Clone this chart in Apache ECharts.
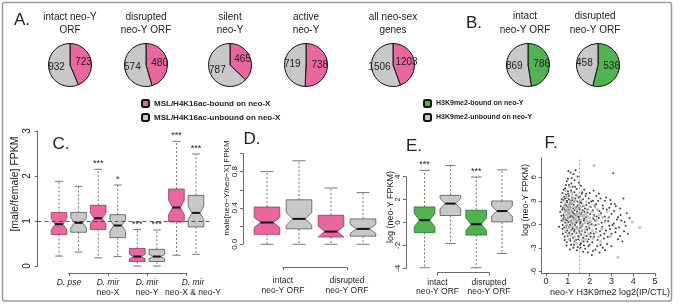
<!DOCTYPE html>
<html>
<head>
<meta charset="utf-8">
<script src="https://cdn.jsdelivr.net/npm/echarts@6/dist/echarts.min.js"></script>
<style>
  html, body { margin: 0; padding: 0; background: #fff; }
  #chart { width: 683px; height: 307px; }
</style>
</head>
<body>
<div id="chart"></div>
<script>
const FONT = '"Liberation Sans", Arial, sans-serif'
const PINK = '#e9669e'
const GRAY = '#c8c8c8'
const GREEN = '#50b250'

// A / B: pie counts
const pieTitlesA = ['intact neo-Y\nORF', 'disrupted\nneo-Y ORF', 'silent\nneo-Y', 'active\nneo-Y', 'all neo-sex\ngenes']
const pieBoundA = [723, 480, 465, 738, 1203]
const pieUnboundA = [932, 574, 787, 719, 1506]
const pieTitlesB = ['intact\nneo-Y ORF', 'disrupted\nneo-Y ORF']
const pieBoundB = [786, 536]
const pieUnboundB = [869, 458]
const legendA = ['MSL/H4K16ac-bound on neo-X', 'MSL/H4K16ac-unbound on neo-X']
const legendB = ['H3K9me2-bound on neo-Y', 'H3K9me2-unbound on neo-Y']

// C: [male/female] FPKM boxes (pink / grey pairs)
const cSpecies = ['D. pse', 'D. mir', 'D. mir', 'D. mir']
const cChrom = ['', 'neo-X', 'neo-Y', 'neo-X & neo-Y']
const cLow = [0.22, 0.31, 0.18, 0.21, 0.0, 0.0, 0.24, 0.26]
const cQ1 = [0.70, 0.75, 0.81, 0.63, 0.10, 0.10, 0.98, 0.87]
const cMed = [0.93, 0.96, 1.06, 0.90, 0.21, 0.21, 1.30, 1.18]
const cQ3 = [1.19, 1.19, 1.35, 1.14, 0.39, 0.37, 1.71, 1.57]
const cHigh = [1.88, 1.77, 2.15, 1.80, 0.81, 0.80, 2.77, 2.49]
const cNotch = [0.13, 0.11, 0.12, 0.13, 0.05, 0.05, 0.16, 0.15]
const cStars = ['', '', '***', '*', '***', '***', '***', '***']

// D: male[neo-Y/neo-X] FPKM
const orfGroups = ['intact\nneo-Y ORF', 'disrupted\nneo-Y ORF']
const dLow = [0, 0, 0, 0]
const dQ1 = [0.11, 0.17, 0.08, 0.09]
const dMed = [0.24, 0.28, 0.14, 0.17]
const dQ3 = [0.41, 0.49, 0.32, 0.28]
const dHigh = [0.80, 0.92, 0.62, 0.57]
const dNotch = [0.055, 0.07, 0.06, 0.05]

// E: log (neo-Y FPKM)
const eLow = [-3.95, -1.83, -3.95, -2.7]
const eQ1 = [-0.87, 0.61, -1.1, 0.05]
const eMed = [0.2, 1.65, -0.15, 1.0]
const eQ3 = [1.36, 2.37, 1.07, 1.88]
const eHigh = [4.55, 4.98, 3.97, 4.6]
const eNotch = [0.58, 0.44, 0.55, 0.44]
const eStars = ['***', '', '***', '']

// F: neo-Y H3K9me2 enrichment vs expression, [x, y]
const fBlackPts = [
  [1.02, 6.8], [1.12, 6.6], [1.25, 6.4], [1.35, 6.9], [1.18, 5.9], [0.95, 5.5], [1.3, 5.6], [1.45, 6.1],
  [1.05, 5.0], [1.22, 4.8], [0.88, 4.6], [1.4, 4.5], [1.6, 4.9], [1.15, 4.3], [3.08, 6.5], [0.75, 4.0],
  [1.0, 4.2], [1.3, 4.1], [1.75, 4.4], [2.0, 4.0], [2.3, 3.6],
  [0.82, 3.5], [0.9, 3.8], [1.05, 3.6], [1.2, 3.4], [1.38, 3.7], [1.55, 3.5], [1.7, 3.2], [1.95, 3.3],
  [2.15, 3.0], [2.5, 3.3], [2.75, 3.4], [3.55, 3.3], [0.7, 2.8], [0.85, 2.5], [0.95, 3.0], [1.1, 2.7],
  [1.3, 2.9], [1.45, 2.4], [1.62, 2.7], [1.85, 2.5], [2.05, 2.2], [2.3, 2.6], [2.6, 2.4], [2.9, 2.1],
  [3.2, 2.3], [0.78, 2.1], [1.0, 2.2], [1.25, 2.0], [1.5, 2.1], [1.78, 2.0],
  [0.65, 1.6], [0.8, 1.2], [0.92, 1.7], [1.08, 1.4], [1.2, 1.0], [1.42, 1.6], [1.6, 1.3], [1.9, 1.5],
  [2.2, 1.2], [2.45, 1.7], [2.7, 1.0], [3.0, 1.3], [3.3, 0.9], [3.82, 0.8], [0.72, 0.5], [0.88, 0.2],
  [1.0, 0.8], [1.15, 0.4], [1.35, 0.6], [1.55, 0.1], [1.75, 0.7], [2.0, 0.3], [2.25, 0.5], [2.55, 0.2],
  [2.85, 0.4], [3.1, 0.1], [3.45, 0.5], [3.65, -0.2],
  [0.6, -0.3], [0.75, -0.6], [0.9, -1.0], [1.05, -0.4], [1.2, -1.2], [1.3, -0.7], [1.48, -1.5], [1.65, -0.9],
  [1.85, -0.3], [2.05, -1.1], [2.3, -0.6], [2.5, -1.4], [2.75, -0.8], [3.0, -1.2], [3.2, -0.5], [3.4, -1.5],
  [3.58, -0.9], [0.85, -1.6], [1.1, -1.9], [1.4, -1.1], [1.7, -1.7], [1.95, -1.9], [2.2, -1.6], [2.65, -1.8],
  [2.9, -0.2], [3.3, -1.9],
  [0.95, -2.3], [1.15, -2.6], [1.3, -2.2], [1.45, -2.9], [1.6, -2.4], [1.8, -3.1], [2.0, -2.6], [2.15, -3.4],
  [2.35, -2.8], [2.6, -3.0], [2.8, -2.5], [1.25, -3.0], [1.7, -3.5], [2.45, -3.6], [1.9, -2.2], [2.1, -3.9],
  [3.0, -2.8],
  [0.8, 3.1], [0.92, 2.4], [1.0, 1.5], [1.05, 3.2], [0.85, 1.9], [1.12, 2.1], [1.18, 1.7], [0.96, 0.5],
  [1.1, -0.1], [0.82, 0.9], [1.28, 1.3], [1.38, 0.2], [1.22, -0.5], [0.98, -0.8], [1.5, 0.9], [1.58, -0.4],
  [1.68, 1.8], [1.88, -0.7], [0.7, 1.1], [0.76, -0.1],
  [0.68, 2.3], [0.74, 1.9], [0.79, 0.7], [0.83, -0.4], [0.87, 3.3], [0.89, 0.6], [0.93, -0.2], [0.97, 2.8],
  [0.99, -1.5], [1.01, 3.9], [1.03, 0.3], [1.04, 1.9], [1.06, -1.1], [1.07, 2.4], [1.09, 0.9], [1.11, -2.1],
  [1.13, 3.0], [1.14, 1.1], [1.16, -0.7], [1.17, 2.6], [1.19, 0.1], [1.21, 3.1], [1.23, 1.5], [1.24, -1.7],
  [1.26, 0.8], [1.27, 2.5], [1.29, -0.9], [1.31, 1.8], [1.33, -0.1], [1.34, 3.3], [1.36, 1.2], [1.37, -2.0],
  [1.39, 2.2], [1.41, 0.4], [1.43, -0.4], [1.44, 2.9], [1.46, 1.0], [1.47, -1.9], [1.49, 3.4], [1.51, 0.6],
  [1.53, -0.9], [1.54, 1.9], [1.56, -2.6], [1.57, 2.8], [1.59, 0.3], [1.61, -1.3], [1.63, 3.9], [1.64, 1.5],
  [1.66, -0.2], [1.69, 2.3], [1.72, -2.2], [1.73, 0.5], [1.76, 1.6], [1.79, -1.0], [1.81, 3.6], [1.83, 0.9],
  [1.86, -1.5], [1.89, 1.9], [1.92, 0.1], [1.94, -2.8], [1.97, 2.7], [1.99, -0.5], [2.02, 1.3], [2.04, -1.6],
  [2.07, 2.9], [2.09, 0.0], [2.12, -2.3], [2.14, 1.8], [2.17, 0.7], [2.19, -1.2], [2.23, 2.4], [2.27, -0.1],
  [2.32, 1.0], [2.36, -2.0], [2.39, 3.0], [2.42, 0.8], [2.47, -0.9], [2.52, 1.4], [2.57, -0.3], [2.62, 2.0],
  [2.67, -1.2], [2.72, 0.5], [2.78, 1.9], [2.83, -1.6], [2.88, 0.9], [2.93, -0.6], [2.98, 2.6], [3.05, -0.1],
  [3.12, 1.7], [3.18, -1.0], [3.25, 0.6], [3.35, -0.4], [3.42, 1.2], [3.5, -2.2], [0.72, 3.2], [0.77, -1.2],
  [0.81, 4.4], [0.86, -2.0], [0.91, 5.0], [0.94, -2.7], [1.0, 5.8], [1.09, -3.2], [1.16, 5.2], [1.28, -2.6],
  [1.33, 4.8], [1.42, -3.3], [1.5, 5.3], [1.58, -3.0], [1.66, 4.1], [1.74, -2.7], [1.84, 3.9], [1.92, -3.6],
  [2.26, -3.2], [2.5, -2.6], [2.7, -3.3], [2.18, 4.3], [2.42, 3.9], [2.7, 3.0], [2.95, 3.1], [3.15, 2.6],
  [3.4, 2.0], [3.7, 1.4], [3.6, 0.3], [3.75, -1.2]
]
const fGrayPts = [
  [0.85, 2.2], [0.95, 1.8], [1.05, 2.5], [1.15, 1.6], [1.25, 2.3], [0.9, 1.2], [1.0, 0.9], [1.1, 1.3],
  [1.2, 0.6], [1.3, 1.1], [1.4, 1.9], [1.5, 1.4], [0.8, 0.4], [0.95, 0.1], [1.05, -0.3], [1.15, 0.2],
  [1.25, -0.2], [1.35, 0.5], [1.45, -0.6], [1.6, 0.6], [1.7, 1.0], [1.8, 0.2], [1.9, -0.4], [2.0, 0.8],
  [2.1, 1.6], [2.2, -0.2], [0.88, -0.9], [1.0, -1.3], [1.12, -0.8], [1.3, -1.6], [1.55, -1.1], [1.75, -1.4],
  [2.0, -1.3], [0.82, 3.0], [0.98, 3.4], [1.1, 2.9], [1.2, 3.8], [1.35, 3.0], [1.6, 2.2], [1.85, 2.9],
  [2.35, 1.9], [2.4, 0.0], [2.6, 0.9], [2.8, 1.6], [2.3, -1.0], [1.4, -2.4], [1.65, -2.0], [0.92, 4.3],
  [1.08, 4.8], [2.2, 7.5], [4.3, -0.4], [3.3, -4.2], [3.95, 0.3], [2.5, -2.2], [2.95, -1.5],
  [0.9, 2.6], [0.98, 2.0], [1.02, 1.2], [1.08, 0.5], [1.12, 1.9], [1.18, 2.7], [1.22, 1.2], [1.27, 0.2],
  [1.32, 2.0], [1.38, -0.4], [1.42, 1.3], [1.48, 0.3], [1.52, 2.6], [1.57, -0.2], [1.63, 1.6], [1.67, 0.0],
  [1.73, 2.4], [1.78, -0.6], [1.83, 1.3], [1.87, 0.5], [1.93, 1.9], [1.98, -0.1], [2.05, 0.4], [2.12, -0.8],
  [2.18, 1.0], [2.25, 2.2], [2.32, 0.5], [2.45, 1.2], [2.55, -0.6], [2.7, 0.3], [0.86, 0.8], [0.92, -0.5],
  [0.97, -0.1], [1.03, 1.6], [1.07, 2.2], [1.13, -1.4], [1.19, -0.3], [1.23, 3.3], [1.29, 0.6], [1.34, -1.0],
  [1.4, 0.9], [1.46, 2.2], [1.51, -1.7], [1.58, 1.1], [1.64, -0.8], [1.72, 1.2], [1.8, -1.9], [1.9, 1.0],
  [2.02, 2.3], [2.15, -1.8], [0.84, 1.5], [0.94, 3.6], [1.06, -1.9], [1.17, 4.1], [1.31, -2.1], [1.44, 3.6],
  [1.62, 3.1], [1.96, -1.2], [2.4, -1.6], [2.85, 0.8]
]
const fCutoff = 1.5

function boxData (low, q1, med, q3, high, notch) {
  return med.map((m, i) => [i + 1, low[i], q1[i], m, q3[i], high[i], notch[i]])
}

function boxRenderer (fills, strokes, stars) {
  return function (params, api) {
    const x = api.value(0)
    const md = api.value(3)
    const q1 = api.value(2)
    const q3 = api.value(4)
    const nt = api.value(6)
    const y = v => api.coord([x, v])[1]
    const cx = api.coord([x, md])[0]
    const h = api.size([0.4, 0])[0]
    const yMd = y(md)
    const yQ1 = y(q1)
    const yQ3 = y(q3)
    const yNh = y(Math.min(md + nt, q3))
    const yNl = y(Math.max(md - nt, q1))
    const yLo = y(api.value(1))
    const yHi = y(api.value(5))
    const i = params.dataIndex
    const whisker = { stroke: '#555', lineWidth: 0.8, lineDash: [2, 2] }
    const cap = { stroke: '#555', lineWidth: 0.8 }
    return {
      type: 'group',
      children: [
        { type: 'line', shape: { x1: cx, y1: yQ3, x2: cx, y2: yHi }, style: whisker },
        { type: 'line', shape: { x1: cx, y1: yQ1, x2: cx, y2: yLo }, style: whisker },
        { type: 'line', shape: { x1: cx - h / 2, y1: yHi, x2: cx + h / 2, y2: yHi }, style: cap },
        { type: 'line', shape: { x1: cx - h / 2, y1: yLo, x2: cx + h / 2, y2: yLo }, style: cap },
        {
          type: 'polygon',
          shape: {
            points: [
              [cx - h, yQ3], [cx + h, yQ3], [cx + h, yNh], [cx + h / 2, yMd], [cx + h, yNl],
              [cx + h, yQ1], [cx - h, yQ1], [cx - h, yNl], [cx - h / 2, yMd], [cx - h, yNh],
            ],
          },
          style: { fill: fills[i], stroke: strokes[i], lineWidth: 0.8 },
        },
        { type: 'line', shape: { x1: cx - h / 2, y1: yMd, x2: cx + h / 2, y2: yMd }, style: { stroke: '#111', lineWidth: 2 } },
        {
          type: 'text',
          style: {
            text: stars ? stars[i] : '', x: cx, y: yHi - 1, textAlign: 'center', textVerticalAlign: 'bottom',
            fontSize: 9, fontFamily: FONT, fill: '#222',
          },
        },
      ],
    }
  }
}

function pieSeries (x, bound, unbound, names, boundColor) {
  return {
    type: 'pie',
    center: [x, 65],
    radius: 21.5,
    startAngle: 90,
    clockwise: true,
    silent: true,
    label: { show: true, position: 'inside', formatter: '{c}', fontSize: 10, color: '#222', fontFamily: FONT },
    labelLine: { show: false },
    itemStyle: { borderColor: '#111', borderWidth: 1 },
    data: [
      { name: names[0], value: bound, itemStyle: { color: boundColor } },
      { name: names[1], value: unbound, itemStyle: { color: GRAY } },
    ],
  }
}

function text (str, x, y, size, extra) {
  return Object.assign({
    type: 'text',
    x,
    y,
    style: {
      text: str, fontSize: size, fontFamily: FONT, fill: '#222',
      textAlign: 'center', textVerticalAlign: 'middle', lineHeight: size + 3.5,
    },
  }, extra)
}

function yTitle (str, x, y, size) {
  return text(str, x, y, size, { rotation: Math.PI / 2 })
}

const pieXA = [70, 146, 230, 306, 393]
const pieXB = [528, 598]

const axisText = { fontSize: 9, fontFamily: FONT, color: '#222' }
const axisLine = { show: true, onZero: false, lineStyle: { color: '#444', width: 0.8 } }
const axisTick = { show: true, length: 3, lineStyle: { color: '#444', width: 0.8 } }

const pairFill = [PINK, GRAY, PINK, GRAY, PINK, GRAY, PINK, GRAY]
const pairStroke = ['#8c3a60', '#555', '#8c3a60', '#555', '#8c3a60', '#555', '#8c3a60', '#555']
const greenFill = [GREEN, GRAY, GREEN, GRAY]
const greenStroke = ['#2e6e30', '#555', '#2e6e30', '#555']

const labelRich = {
  i: { fontStyle: 'italic', fontSize: 8.5, fontFamily: FONT, color: '#222', lineHeight: 10 },
  n: { fontSize: 8.5, fontFamily: FONT, color: '#222', lineHeight: 10 },
  ir: { fontStyle: 'italic', fontSize: 8.5, fontFamily: FONT, color: '#222', lineHeight: 10, padding: [0, 0, 0, 14] },
  nr: { fontSize: 8.5, fontFamily: FONT, color: '#222', lineHeight: 10, padding: [0, 0, 0, 14] },
}

function speciesLabel (v, i) {
  if (!cChrom[i]) return `{i|${v}}`
  if (i === cChrom.length - 1) return `{ir|${v}}\n{nr|${cChrom[i]}}`
  return `{i|${v}}\n{n|${cChrom[i]}}`
}

function bracketAxis (gridIndex, data, margin, formatter) {
  return {
    gridIndex,
    type: 'category',
    data,
    boundaryGap: false,
    axisLine,
    axisTick: Object.assign({}, axisTick, { interval: 0 }),
    axisLabel: Object.assign({}, axisText, {
      interval: 0,
      margin,
      fontSize: 8.5,
      lineHeight: 9.5,
      formatter,
      rich: labelRich,
    }),
    splitLine: { show: false },
  }
}

const chart = echarts.init(document.getElementById('chart'), null, { renderer: 'canvas' })

const series = []
pieBoundA.forEach((b, i) => series.push(pieSeries(pieXA[i], b, pieUnboundA[i], legendA, PINK)))
pieBoundB.forEach((b, i) => series.push(pieSeries(pieXB[i], b, pieUnboundB[i], legendB, GREEN)))

series.push({
  type: 'custom',
  xAxisIndex: 0,
  yAxisIndex: 0,
  silent: true,
  renderItem: boxRenderer(pairFill, pairStroke, cStars),
  encode: { x: 0, y: [1, 5] },
  data: boxData(cLow, cQ1, cMed, cQ3, cHigh, cNotch),
  markLine: {
    silent: true,
    symbol: 'none',
    label: { show: false },
    lineStyle: { type: [4, 3], color: '#333', width: 0.8 },
    data: [{ yAxis: 1 }],
  },
})
series.push({
  type: 'custom',
  xAxisIndex: 1,
  yAxisIndex: 1,
  silent: true,
  renderItem: boxRenderer(pairFill, pairStroke, null),
  encode: { x: 0, y: [1, 5] },
  data: boxData(dLow, dQ1, dMed, dQ3, dHigh, dNotch),
})
series.push({
  type: 'custom',
  xAxisIndex: 2,
  yAxisIndex: 2,
  silent: true,
  clip: false,
  renderItem: boxRenderer(greenFill, greenStroke, eStars),
  encode: { x: 0, y: [1, 5] },
  data: boxData(eLow, eQ1, eMed, eQ3, eHigh, eNotch),
})
series.push({
  type: 'scatter',
  xAxisIndex: 3,
  yAxisIndex: 3,
  silent: true,
  clip: false,
  symbolSize: 2,
  itemStyle: { color: '#111' },
  data: fBlackPts,
  markLine: {
    silent: true,
    symbol: 'none',
    label: { show: false },
    lineStyle: { type: [2, 2], color: '#888', width: 0.8 },
    data: [{ xAxis: fCutoff }],
  },
})
series.push({
  type: 'scatter',
  xAxisIndex: 3,
  yAxisIndex: 3,
  silent: true,
  clip: false,
  symbolSize: 3,
  itemStyle: { color: '#b4b4b4' },
  data: fGrayPts,
})

const option = {
  animation: false,
  backgroundColor: '#fff',
  textStyle: { fontFamily: FONT },
  legend: [
    {
      data: legendA, left: 141, top: 99, orient: 'vertical', padding: 0,
      itemWidth: 7, itemHeight: 7, itemGap: 5, icon: 'roundRect', selectedMode: false,
      textStyle: { fontSize: 8, fontWeight: 'bold', fontFamily: FONT, color: '#222' },
    },
    {
      data: legendB, left: 423, top: 99, orient: 'vertical', padding: 0,
      itemWidth: 7, itemHeight: 7, itemGap: 5, icon: 'roundRect', selectedMode: false,
      textStyle: { fontSize: 7, fontWeight: 'bold', fontFamily: FONT, color: '#222' },
    },
  ],
  grid: [
    { left: 37.5, top: 131, width: 172.2, height: 135 },
    { left: 243, top: 153.5, width: 144, height: 90.8 },
    { left: 406, top: 176.7, width: 114.6, height: 91.6 },
    { left: 541.7, top: 158, width: 113.4, height: 115.5 },
    { left: 69, top: 272, width: 117, height: 1 },
    { left: 283, top: 266.3, width: 64, height: 1 },
    { left: 437.5, top: 271.7, width: 51.5, height: 1 },
  ],
  xAxis: [
    { gridIndex: 0, type: 'value', min: -0.1, max: 8.7, show: false },
    { gridIndex: 1, type: 'value', min: 0.25, max: 4.75, show: false },
    { gridIndex: 2, type: 'value', min: 0.28, max: 4.72, show: false },
    {
      gridIndex: 3, type: 'value', min: -0.2, max: 5,
      axisLine, axisTick: Object.assign({}, axisTick, { customValues: [0, 1, 2, 3, 4, 5] }),
      axisLabel: Object.assign({}, axisText, { margin: 4, customValues: [0, 1, 2, 3, 4, 5] }),
      splitLine: { show: false },
    },
    bracketAxis(4, cSpecies, 5, speciesLabel),
    bracketAxis(5, orfGroups, 9, v => v),
    bracketAxis(6, orfGroups, 5, v => v),
  ],
  yAxis: [
    {
      gridIndex: 0, type: 'value', min: 0, max: 3, interval: 1,
      axisLine, axisTick, splitLine: { show: false },
      axisLabel: Object.assign({}, axisText, { fontSize: 10, rotate: 90, margin: 5 }),
    },
    {
      gridIndex: 1, type: 'value', min: 0, max: 1, interval: 0.2,
      axisLine, axisTick, splitLine: { show: false },
      axisLabel: Object.assign({}, axisText, {
        fontSize: 8, rotate: 90, margin: 4,
        formatter: v => ([0, 0.4, 0.8].some(t => Math.abs(t - v) < 1e-6) ? v.toFixed(1) : ''),
      }),
    },
    {
      gridIndex: 2, type: 'value', min: -4, max: 4, interval: 2,
      axisLine, axisTick, splitLine: { show: false },
      axisLabel: Object.assign({}, axisText, { fontSize: 8, rotate: 90, margin: 4 }),
    },
    {
      gridIndex: 3, type: 'value', min: -6.27, max: 8.45,
      axisLine, splitLine: { show: false },
      axisTick: Object.assign({}, axisTick, { customValues: [-6, -3, 0, 3, 6] }),
      axisLabel: Object.assign({}, axisText, { fontSize: 8, rotate: 90, margin: 4, customValues: [-6, -3, 0, 3, 6] }),
    },
    { gridIndex: 4, type: 'value', show: false },
    { gridIndex: 5, type: 'value', show: false },
    { gridIndex: 6, type: 'value', show: false },
  ],
  graphic: [
    { type: 'rect', silent: true, shape: { x: 2.5, y: 2.5, width: 669, height: 298.5, r: 2 }, style: { fill: 'none', stroke: '#9a9a9a', lineWidth: 1.5 } },
    text('A.', 22, 20, 17),
    text('B.', 474, 23, 17),
    text('C.', 61, 144, 17),
    text('D.', 252, 139, 17),
    text('E.', 414, 146, 17),
    text('F.', 551, 143, 17),
    ...pieTitlesA.map((t, i) => text(t, pieXA[i], 23.5, 10)),
    ...pieTitlesB.map((t, i) => text(t, pieXB[i] - 3, 23, 10)),
    yTitle('[male/female] FPKM', 15, 184, 10.5),
    yTitle('male[neo\u2212Y/neo\u2212X] FPKM', 227, 188, 8),
    yTitle('log (neo-Y FPKM)', 391, 207, 9),
    yTitle('log (neo-Y FPKM)', 526, 200, 9),
    text('neo-Y H3K9me2 log2(IP/CTL)', 610, 293, 9),
  ],
  series,
}

chart.setOption(option)
</script>
</body>
</html>
